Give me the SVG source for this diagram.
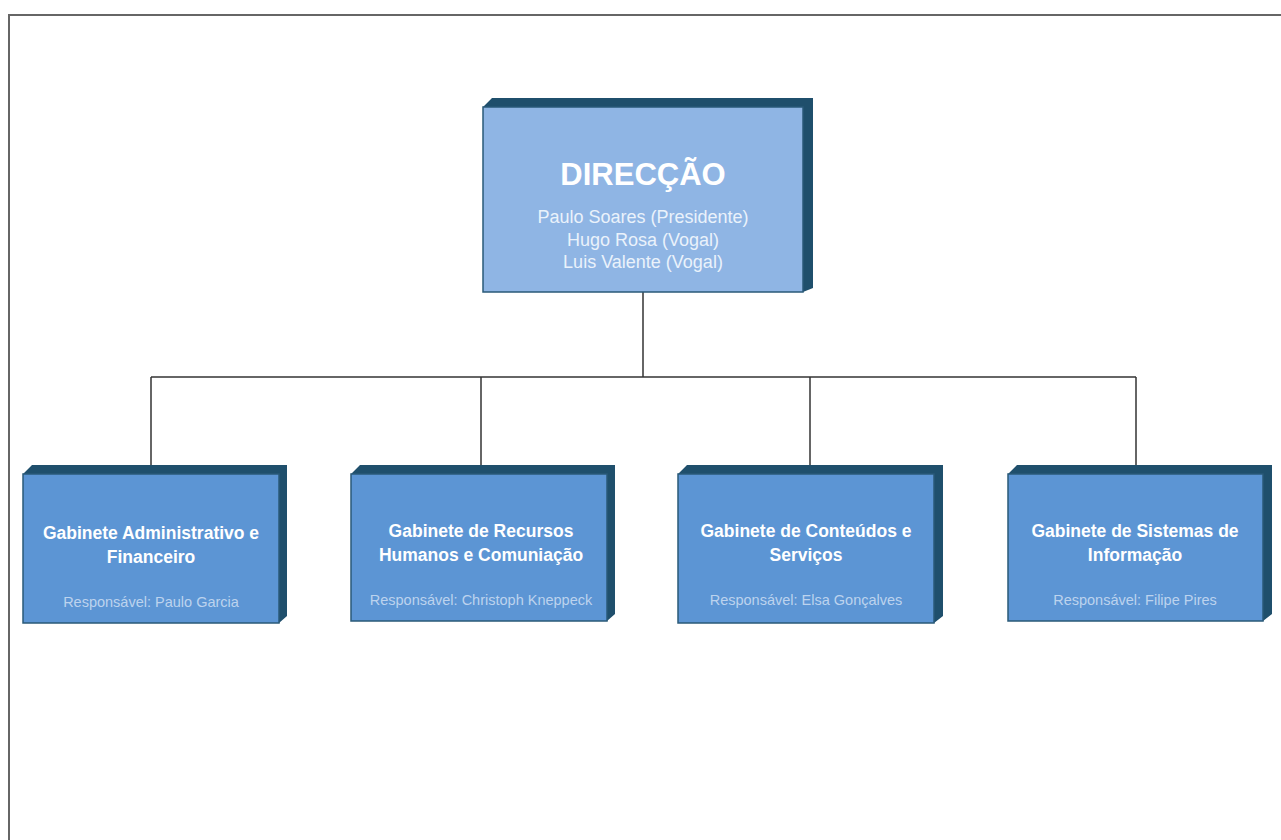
<svg xmlns="http://www.w3.org/2000/svg" width="1281" height="840" viewBox="0 0 1281 840">
<style>
.ext{fill:#1f4f6c;}
.main{fill:#8fb5e4;stroke:#2a5a78;stroke-width:1.5;}
.sub{fill:#5c95d4;stroke:#2a5a78;stroke-width:1.5;}
.t{font-family:"Liberation Sans",Arial,sans-serif;text-anchor:middle;fill:#ffffff;}
.h1{font-size:31px;font-weight:bold;}
.m{font-size:18px;fill:#eaf2fb;}
.st{font-size:17.5px;font-weight:bold;}
.r{font-size:14.5px;fill:#bcd3ee;}
.c{stroke:#333;stroke-width:1.5;fill:none;}
</style>
<rect width="1281" height="840" fill="#ffffff"/>
<path d="M9,840 V15 H1281" fill="none" stroke="#666" stroke-width="2"/>
<g id="connectors">
<path class="c" d="M643,292 V377"/>
<path class="c" d="M151,377 H1136"/>
<path class="c" d="M151,377 V466"/>
<path class="c" d="M481,377 V466"/>
<path class="c" d="M810,377 V466"/>
<path class="c" d="M1136,377 V466"/>
</g>
<g id="direccao">
<polygon class="ext" points="483,107 492,98 813,98 813,288 803,292 803,107"/>
<rect class="main" x="483" y="107" width="320" height="185"/>
<text class="t h1" x="643" y="185">DIRECÇÃO</text>
<text class="t m" x="643" y="223">Paulo Soares (Presidente)</text>
<text class="t m" x="643" y="246">Hugo Rosa (Vogal)</text>
<text class="t m" x="643" y="268">Luis Valente (Vogal)</text>
</g>
<g id="gaf">
<polygon class="ext" points="23,474 32,465 287,465 287,616 279,623 279,474"/>
<rect class="sub" x="23" y="474" width="256" height="149"/>
<text class="t st" x="151" y="539">Gabinete Administrativo e</text>
<text class="t st" x="151" y="563">Financeiro</text>
<text class="t r" x="151" y="607">Responsável: Paulo Garcia</text>
</g>
<g id="grhc">
<polygon class="ext" points="351,474 360,465 615,465 615,614 607,621 607,474"/>
<rect class="sub" x="351" y="474" width="256" height="147"/>
<text class="t st" x="481" y="537">Gabinete de Recursos</text>
<text class="t st" x="481" y="561">Humanos e Comuniação</text>
<text class="t r" x="481" y="605">Responsável: Christoph Kneppeck</text>
</g>
<g id="gcs">
<polygon class="ext" points="678,474 687,465 943,465 943,616 934,623 934,474"/>
<rect class="sub" x="678" y="474" width="256" height="149"/>
<text class="t st" x="806" y="537">Gabinete de Conteúdos e</text>
<text class="t st" x="806" y="561">Serviços</text>
<text class="t r" x="806" y="605">Responsável: Elsa Gonçalves</text>
</g>
<g id="gsi">
<polygon class="ext" points="1008,474 1017,465 1272,465 1272,614 1263,621 1263,474"/>
<rect class="sub" x="1008" y="474" width="255" height="147"/>
<text class="t st" x="1135" y="537">Gabinete de Sistemas de</text>
<text class="t st" x="1135" y="561">Informação</text>
<text class="t r" x="1135" y="605">Responsável: Filipe Pires</text>
</g>
</svg>
